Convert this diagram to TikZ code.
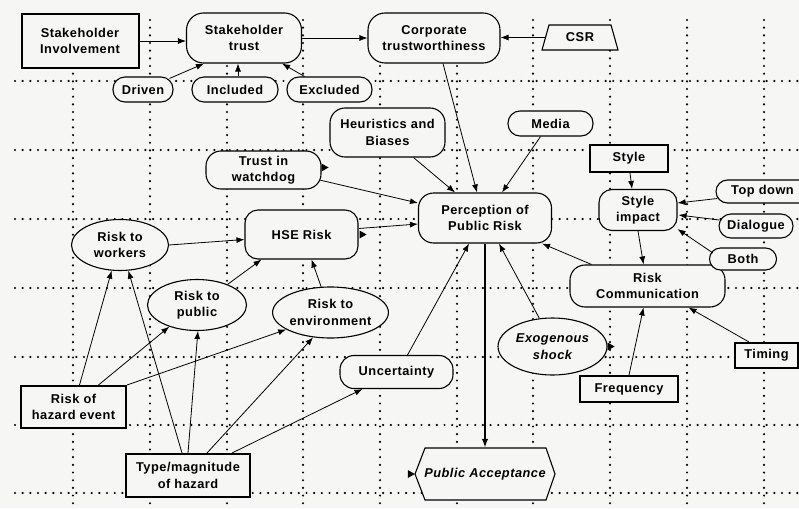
\documentclass[tikz,border=0pt]{standalone}
\usepackage{fontspec}
\setmainfont{Liberation Sans}[LetterSpace=4]
\usetikzlibrary{shapes.geometric,arrows.meta,calc}
\definecolor{bgc}{RGB}{246,246,244}
\newcommand\dfont{\fontsize{12.8}{16.5}\selectfont\bfseries}
\newcommand\stubtip[1]{\fill (#1) ++(0,-4) -- ++(7,4) -- ++(-7,4) -- cycle;}
\begin{document}
\begin{tikzpicture}[x=1pt,y=-1pt,font=\dfont,
  box/.style={draw, line width=1.1pt, fill=bgc, align=center, inner sep=0pt},
  thickbox/.style={box, line width=2pt},
  rbox/.style={box, rounded corners=#1},
  ell/.style={box, ellipse},
  edge/.style={-{Latex[length=8pt,width=6pt]}, line width=0.8pt},
  thickedge/.style={-{Latex[length=9pt,width=6.5pt]}, line width=1.8pt},
  gridline/.style={line width=2.4pt, dash pattern=on 0pt off 7.67pt, line cap=round}]
\fill[bgc] (0,0) rectangle (799,508);
\useasboundingbox (0,0) rectangle (799,508);
% grid
\foreach \y in {81,150,219,288,357,425,493} \draw[gridline] (15,\y) -- (799,\y);
\foreach \x in {73,150,227,303,380,457,533,610,687,764} \draw[gridline] (\x,20) -- (\x,508);
% top row
\node[thickbox, minimum width=117pt, minimum height=54pt] (inv) at (80,41) {Stakeholder\\Involvement};
\node[rbox=17pt, minimum width=115pt, minimum height=50pt] (sht) at (244,38) {Stakeholder\\trust};
\node[rbox=17pt, minimum width=132pt, minimum height=50pt] (corp) at (434,38) {Corporate\\trustworthiness};
\coordinate (csrc) at (580,37.5);
\filldraw[draw=black, fill=bgc, line width=1.1pt] ($(csrc)+(-38,12.5)$) -- ($(csrc)+(38,12.5)$) -- ($(csrc)+(31,-12.5)$) -- ($(csrc)+(-31,-12.5)$) -- cycle;
\node[inner sep=0pt, minimum width=70pt, minimum height=25pt] (csr) at (csrc) {CSR};
\node[rbox=12pt, minimum width=60pt, minimum height=25pt] (drv) at (143,89.5) {Driven};
\node[rbox=12pt, minimum width=86pt, minimum height=25pt] (inc) at (235,89.5) {Included};
\node[rbox=12pt, minimum width=85pt, minimum height=25pt] (exc) at (329.5,89.5) {Excluded};
% middle
\node[rbox=15pt, minimum width=115pt, minimum height=49pt] (heur) at (387.5,132.5) {Heuristics and\\Biases};
\node[rbox=12pt, minimum width=85pt, minimum height=25pt] (media) at (550.5,123.5) {Media};
\node[rbox=15pt, minimum width=115pt, minimum height=38pt] (twd) at (263.5,170) {Trust in\\watchdog};
\node[rbox=15pt, minimum width=133pt, minimum height=50pt] (perc) at (485,218) {Perception of\\Public Risk};
\node[rbox=13pt, minimum width=113pt, minimum height=49pt] (hse) at (301.5,234.5) {HSE Risk};
\node[ell, minimum width=97pt, minimum height=51pt] (rw) at (120,245) {Risk to\\workers};
\node[ell, minimum width=99pt, minimum height=51pt] (rp) at (197,305) {Risk to\\public};
\node[ell, minimum width=105pt, minimum height=51pt] (re) at (330.5,312.5) {Risk to\\environment};
\node[rbox=14pt, minimum width=113pt, minimum height=33pt] (unc) at (396.5,372) {Uncertainty};
\node[ell, minimum width=109pt, minimum height=57pt, font=\dfont\itshape] (exo) at (552.5,346.5) {Exogenous\\shock};
\node[rbox=15pt, minimum width=155pt, minimum height=42pt] (rc) at (647.5,286) {Risk\\Communication};
\node[thickbox, minimum width=78pt, minimum height=27pt] (style) at (629,158.5) {Style};
\node[rbox=13pt, minimum width=78pt, minimum height=41pt] (simp) at (638,210) {Style\\impact};
\node[rbox=11.5pt, minimum width=96pt, minimum height=23pt] (td) at (764,191.5) {Top down\hspace*{3pt}};
\node[rbox=12pt, minimum width=74pt, minimum height=24pt] (dlg) at (756,226) {Dialogue};
\node[rbox=11pt, minimum width=67pt, minimum height=22pt] (both) at (743,259) {Both};
\node[thickbox, minimum width=63pt, minimum height=25pt] (tim) at (766.5,355.5) {Timing};
\node[thickbox, minimum width=98pt, minimum height=26pt] (freq) at (629,389) {Frequency};
% bottom
\coordinate (pac) at (485,474);
\filldraw[draw=black, fill=bgc, line width=1.1pt] ($(pac)+(-70,0)$) -- ($(pac)+(-60,-26)$) -- ($(pac)+(61,-26)$) -- ($(pac)+(70,0)$) -- ($(pac)+(61,26)$) -- ($(pac)+(-60,26)$) -- cycle;
\node[inner sep=0pt, minimum width=140pt, minimum height=52pt, font=\dfont\itshape] (pa) at (pac) {Public Acceptance};
\node[thickbox, minimum width=105pt, minimum height=42pt] (rhe) at (73.5,407) {Risk of\\hazard event};
\node[thickbox, minimum width=124pt, minimum height=43pt] (tmh) at (188,475.5) {Type/magnitude\\of hazard};
% connectors
\draw[edge] (inv.east) -- (inv.east -| sht.west);
\draw[edge] (sht.east) -- (corp.west);
\draw[edge] (csr.west) -- (csr.west -| corp.east);
\draw[edge] ($(drv.north east)+(-4,2)$) -- ($(sht.south west)+(18,0)$);
\draw[edge] ($(inc.north)+(3,0)$) -- ($(inc.north |- sht.south)+(3,0)$);
\draw[edge] ($(exc.north west)+(18,0)$) -- ($(sht.south east)+(-20,0)$);
\draw[edge] ($(corp.south)+(9,0)$) -- ($(perc.north)+(-8,0)$);
\draw[edge] ($(heur.south)+(26,0)$) -- ($(perc.north)+(-30,0)$);
\draw[edge] ($(media.south)+(-10,0)$) -- ($(perc.north)+(17,0)$);
\draw[edge] ($(twd.east)+(-2,10)$) -- ($(perc.west)+(0,-15)$);
\draw[edge] ($(hse.east)+(0,-6)$) -- ($(perc.west)+(0,6)$);
\draw[edge] (rw.east) -- ($(hse.west)+(0,5)$);
\draw[edge] (rp.34) -- ($(hse.south west)+(17,0)$);
\draw[edge] (re.110) -- ($(hse.south)+(10,0)$);
\draw[edge] ($(rhe.north)+(6,0)$) -- (rw.252);
\draw[edge] ($(rhe.north)+(25,0)$) -- (rp.218);
\draw[edge] (rhe.north east) -- (re.201);
\draw[edge] ($(tmh.north)+(-6,0)$) -- (rw.288);
\draw[edge] (tmh.north) -- (rp.272);
\draw[edge] ($(tmh.north)+(19,0)$) -- (re.235);
\draw[edge] ($(tmh.north)+(44,0)$) -- ($(unc.south)+(-34,0)$);
\draw[edge] ($(unc.north)+(11,0)$) -- ($(perc.south)+(-16,0)$);
\draw[thickedge] (perc.south) -- (pa.north);
\draw[edge] (exo.115) -- ($(perc.south)+(14,0)$);
\draw[edge] ($(rc.north west)+(22,0)$) -- ($(perc.south east)+(-10,0)$);
\draw[edge] ($(style.south)+(1,0)$) -- ($(simp.north)+(-6,0)$);
\draw[edge] (simp.south) -- ($(rc.north)+(-4,0)$);
\draw[edge] ($(td.west)+(2,7)$) -- ($(simp.east)+(0,-7)$);
\draw[edge] ($(dlg.west)+(1,-6)$) -- ($(simp.east)+(1,5)$);
\draw[edge] ($(both.west)+(4,-6)$) -- ($(simp.south east)+(0,-2)$);
\draw[edge] (freq.north) -- ($(rc.south)+(-4,0)$);
\draw[edge] ($(tim.north west)+(15,0)$) -- ($(rc.south east)+(-37,0)$);
% port tips
\stubtip{$(twd.east)+(0,-2.5)$}
\stubtip{$(hse.east)+(1,0)$}
\stubtip{$(exo.east)$}
\stubtip{$(pa.west)+(-7,0)$}
\end{tikzpicture}
\end{document}
